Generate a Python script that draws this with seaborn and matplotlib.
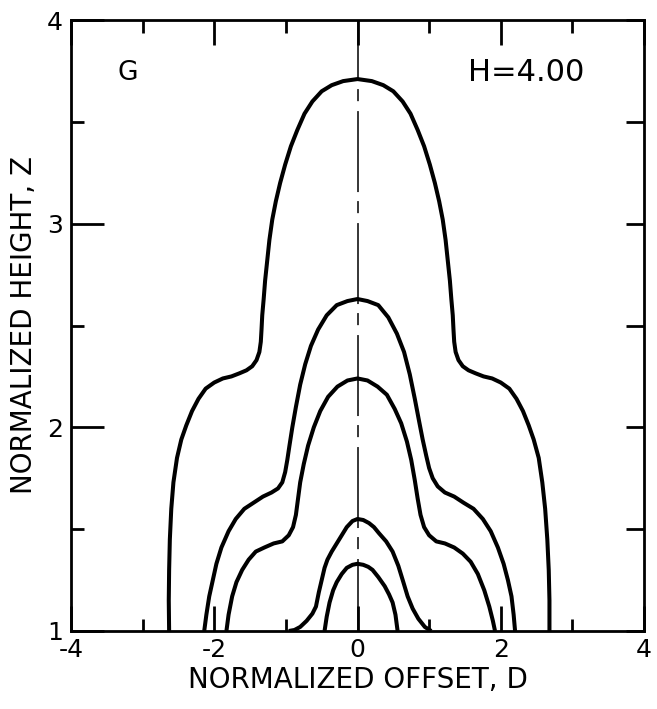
import matplotlib
matplotlib.use("Agg")
import matplotlib.pyplot as plt
import seaborn as sns
import pandas as pd
from matplotlib.ticker import MultipleLocator, NullFormatter, NullLocator

# ---- data ----
curve_a_x = [-2.63, -2.635, -2.63, -2.62, -2.60, -2.57, -2.52, -2.46, -2.39, -2.31, -2.22, -2.12,
             -2.00, -1.88, -1.76, -1.65, -1.55, -1.47, -1.41, -1.37, -1.35, -1.34, -1.33, -1.31,
             -1.29, -1.26, -1.23, -1.19, -1.14, -1.08, -1.01, -0.93, -0.84, -0.74, -0.63, -0.50,
             -0.36, -0.20, 0.0,
             0.20, 0.36, 0.50, 0.63, 0.74, 0.84, 0.93, 1.01, 1.08, 1.14, 1.19, 1.23, 1.26,
             1.29, 1.31, 1.33, 1.34, 1.35, 1.37, 1.41, 1.47, 1.55, 1.65, 1.76, 1.88, 2.00,
             2.12, 2.22, 2.31, 2.39, 2.46, 2.53, 2.58, 2.62, 2.65, 2.67, 2.68, 2.68]
curve_a_z = [1.00, 1.15, 1.30, 1.45, 1.60, 1.73, 1.85, 1.94, 2.01, 2.08, 2.14, 2.19,
             2.22, 2.24, 2.25, 2.265, 2.28, 2.30, 2.33, 2.37, 2.42, 2.48, 2.55, 2.63,
             2.72, 2.82, 2.92, 3.02, 3.11, 3.20, 3.29, 3.38, 3.46, 3.54, 3.60, 3.65,
             3.68, 3.70, 3.71,
             3.70, 3.68, 3.65, 3.60, 3.54, 3.46, 3.38, 3.29, 3.20, 3.11, 3.02, 2.92, 2.82,
             2.72, 2.63, 2.55, 2.48, 2.42, 2.37, 2.33, 2.30, 2.28, 2.265, 2.25, 2.24, 2.22,
             2.19, 2.14, 2.08, 2.01, 1.94, 1.85, 1.73, 1.60, 1.45, 1.30, 1.15, 1.00]

curve_b_x = [-2.14, -2.11, -2.07, -2.02, -1.97, -1.90, -1.80, -1.70, -1.58, -1.45, -1.32, -1.20,
             -1.11, -1.05, -1.01, -0.98, -0.95, -0.91, -0.86, -0.80, -0.73, -0.65, -0.55, -0.43,
             -0.29, -0.14, 0.0,
             0.14, 0.29, 0.43, 0.55, 0.65, 0.73, 0.80, 0.86, 0.91, 0.96, 1.00, 1.05, 1.12,
             1.22, 1.35, 1.48, 1.62, 1.75, 1.86, 1.96, 2.04, 2.10, 2.15, 2.18, 2.20]
curve_b_z = [1.00, 1.08, 1.17, 1.25, 1.33, 1.41, 1.49, 1.55, 1.60, 1.63, 1.66, 1.68,
             1.70, 1.73, 1.78, 1.84, 1.91, 2.00, 2.10, 2.21, 2.31, 2.40, 2.48, 2.55,
             2.60, 2.62, 2.63,
             2.62, 2.60, 2.54, 2.46, 2.37, 2.26, 2.14, 2.03, 1.94, 1.86, 1.80, 1.75, 1.71,
             1.68, 1.66, 1.63, 1.60, 1.55, 1.49, 1.41, 1.33, 1.25, 1.17, 1.08, 1.00]

curve_c_x = [-1.83, -1.80, -1.75, -1.69, -1.61, -1.52, -1.42, -1.30, -1.17, -1.05, -0.96, -0.90,
             -0.86, -0.83, -0.80, -0.75, -0.69, -0.61, -0.52, -0.41, -0.28, -0.14, 0.0,
             0.14, 0.28, 0.41, 0.52, 0.61, 0.69, 0.75, 0.80, 0.84, 0.88, 0.93, 1.00, 1.10,
             1.22, 1.35, 1.47, 1.58, 1.68, 1.77, 1.84, 1.89, 1.92]
curve_c_z = [1.00, 1.08, 1.17, 1.24, 1.30, 1.35, 1.39, 1.41, 1.43, 1.44, 1.47, 1.51,
             1.57, 1.65, 1.73, 1.82, 1.91, 2.00, 2.08, 2.15, 2.20, 2.23, 2.24,
             2.23, 2.20, 2.16, 2.09, 2.02, 1.93, 1.84, 1.74, 1.65, 1.57, 1.51, 1.47, 1.44,
             1.43, 1.41, 1.38, 1.34, 1.28, 1.20, 1.12, 1.05, 1.00]

curve_d_x = [-0.96, -0.88, -0.80, -0.71, -0.63, -0.58, -0.54, -0.50, -0.46, -0.42, -0.36, -0.29,
             -0.22, -0.15, -0.07, 0.0,
             0.08, 0.16, 0.23, 0.30, 0.40, 0.49, 0.57, 0.64, 0.70, 0.77, 0.85, 0.94, 1.03]
curve_d_z = [1.00, 1.005, 1.02, 1.05, 1.085, 1.12, 1.19, 1.25, 1.31, 1.35, 1.39, 1.43,
             1.47, 1.51, 1.54, 1.55,
             1.545, 1.53, 1.51, 1.48, 1.44, 1.39, 1.32, 1.24, 1.17, 1.11, 1.06, 1.02, 1.00]

curve_e_x = [-0.46, -0.43, -0.39, -0.34, -0.29, -0.22, -0.15, -0.07, 0.0, 0.08, 0.15, 0.21,
             0.29, 0.38, 0.44, 0.49, 0.53, 0.56]
curve_e_z = [1.00, 1.07, 1.14, 1.20, 1.24, 1.28, 1.31, 1.325, 1.33, 1.325, 1.315, 1.30,
             1.265, 1.22, 1.18, 1.14, 1.08, 1.00]

x_ticks = [-4, -2, 0, 2, 4]
x_ticklabels = ["-4", "-2", "0", "2", "4"]
y_ticks = [1, 2, 3, 4]
y_ticklabels = ["1", "2", "3", "4"]

frames = []
for name, xs, zs in [("A", curve_a_x, curve_a_z), ("B", curve_b_x, curve_b_z),
                     ("C", curve_c_x, curve_c_z), ("D", curve_d_x, curve_d_z),
                     ("E", curve_e_x, curve_e_z)]:
    frames.append(pd.DataFrame({"D": xs, "Z": zs, "curve": name}))
df = pd.concat(frames, ignore_index=True)

sns.set_style("white")
plt.rcParams["font.family"] = ["DejaVu Sans"]
plt.rcParams["text.color"] = "black"
plt.rcParams["axes.labelcolor"] = "black"
plt.rcParams["xtick.color"] = "black"
plt.rcParams["ytick.color"] = "black"

fig = plt.figure(figsize=(6.57, 7.09), dpi=100)
rect = [71 / 657, 1 - 631 / 709, (644 - 71) / 657, (631 - 20) / 709]

# a frameless overlay axes carries only the uniform right-hand ticks
ax_r = fig.add_axes(rect, frameon=False)
ax_r.set_xlim(-4, 4)
ax_r.set_ylim(1, 4)
ax_r.xaxis.set_major_locator(NullLocator())
ax_r.yaxis.set_major_locator(MultipleLocator(0.5))
ax_r.yaxis.set_minor_locator(NullLocator())
ax_r.yaxis.set_major_formatter(NullFormatter())
ax_r.yaxis.set_ticks_position("right")
ax_r.tick_params(axis="y", which="major", direction="in", right=True, left=False,
                 labelright=False, labelleft=False, length=13, width=2.0, color="black")
ax_r.grid(False)

ax = fig.add_axes(rect)
ax.patch.set_alpha(0)

for name, sub in df.groupby("curve"):
    sns.lineplot(data=sub, x="D", y="Z", sort=False, estimator=None, color="black",
                 linewidth=2.9, ax=ax, legend=False, solid_capstyle="butt",
                 solid_joinstyle="round")

ax.axvline(0, color="black", linewidth=1.1,
           linestyle=(5.9, (53, 6.5, 7.9, 5.9)), zorder=1)

ax.set_xlim(-4, 4)
ax.set_ylim(1, 4)
ax.set_xticks(x_ticks)
ax.set_xticklabels(x_ticklabels)
ax.set_yticks(y_ticks)
ax.set_yticklabels(y_ticklabels)
ax.xaxis.set_minor_locator(MultipleLocator(1))
ax.yaxis.set_minor_locator(MultipleLocator(0.5))
ax.yaxis.set_ticks_position("left")

for s in ax.spines.values():
    s.set_linewidth(2.0)
    s.set_color("black")

ax.tick_params(axis="x", which="both", direction="in", top=True, bottom=True,
               width=2.0, color="black", labelsize=18, labelcolor="black")
ax.tick_params(axis="y", which="both", direction="in", left=True, right=False,
               labelright=False, width=2.0, color="black", labelsize=18,
               labelcolor="black")
ax.tick_params(axis="x", which="major", length=18, pad=5)
ax.tick_params(axis="x", which="minor", length=9)
ax.tick_params(axis="y", which="major", length=24, pad=6)
ax.tick_params(axis="y", which="minor", length=9)

ax.set_xlabel("NORMALIZED OFFSET, D", fontsize=20, labelpad=3)
ax.set_ylabel("NORMALIZED HEIGHT, Z", fontsize=20, labelpad=6)

ax.text(-3.21, 3.74, "G", fontsize=19, ha="center", va="center")
ax.text(2.35, 3.74, "H=4.00", fontsize=22, ha="center", va="center")

fig.savefig("out.png", dpi=100)
